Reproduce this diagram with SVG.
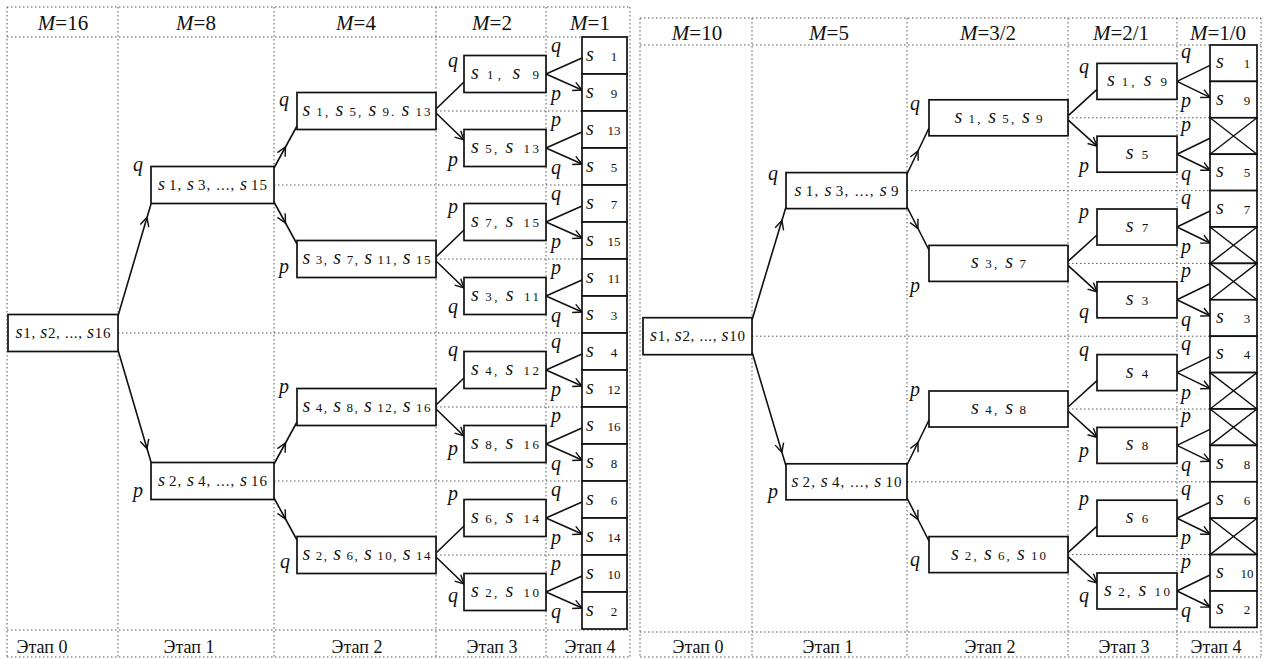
<svg xmlns="http://www.w3.org/2000/svg" width="1265" height="659" viewBox="0 0 1265 659">
<defs>
<style>
text{font-family:"Liberation Serif","Times New Roman",serif;fill:#111}
.bx{fill:#fff;stroke:#111;stroke-width:1.7}
.x{fill:none;stroke:#111;stroke-width:1.4}
.t{font-size:13px}
.s{font-style:italic;font-size:20px}
.t0{font-size:15px}
.s0{font-style:italic;font-size:18px}
.lab{font-style:italic;font-size:20px}
.hdr{font-size:21px}
.ftr{font-size:18px}
.it{font-style:italic}
.g{fill:none;stroke:#555;stroke-width:1;stroke-dasharray:1.5 2.5}
.c{fill:none;stroke:#111;stroke-width:1.6}
.m{marker-mid:url(#ah)}
.e{marker-end:url(#ah)}
</style>
<marker id="ah" viewBox="0 0 10 10" refX="9" refY="5" markerWidth="11" markerHeight="11" markerUnits="userSpaceOnUse" orient="auto">
<path d="M1,1 L9,5 L1,9" fill="none" stroke="#111" stroke-width="1.3"/>
</marker>
</defs>
<rect width="1265" height="659" fill="#fff"/>

<g id="grid" class="g">
<path d="M7,7 H630 M7,37 H630 M7,630 H630 M7,657 H630 M7,7 V657 M118,7 V657 M274,7 V657 M436,7 V657 M546,7 V657 M630,7 V657"/>
<path d="M118,333 H582 M274,185 H582 M274,481 H582 M436,111 H582 M436,259 H582 M436,407 H582 M436,555 H582"/>
<path d="M640,18 H1261 M640,45 H1261 M640,632 H1261 M640,657 H1261 M640,18 V657 M752,18 V657 M907,18 V657 M1068,18 V657 M1177,18 V657 M1261,18 V657"/>
<path d="M752,336.2 H1210 M907,190.6 H1210 M907,481.8 H1210 M1068,117.8 H1210 M1068,263.4 H1210 M1068,409 H1210 M1068,554.6 H1210"/>
</g>

<g id="headers">
<text class="hdr" x="63" y="30" text-anchor="middle"><tspan class="it">M</tspan>=16</text>
<text class="hdr" x="196" y="30" text-anchor="middle"><tspan class="it">M</tspan>=8</text>
<text class="hdr" x="356" y="30" text-anchor="middle"><tspan class="it">M</tspan>=4</text>
<text class="hdr" x="492" y="30" text-anchor="middle"><tspan class="it">M</tspan>=2</text>
<text class="hdr" x="590" y="30" text-anchor="middle"><tspan class="it">M</tspan>=1</text>
<text class="hdr" x="697" y="40" text-anchor="middle"><tspan class="it">M</tspan>=10</text>
<text class="hdr" x="829" y="40" text-anchor="middle"><tspan class="it">M</tspan>=5</text>
<text class="hdr" x="988" y="40" text-anchor="middle"><tspan class="it">M</tspan>=3/2</text>
<text class="hdr" x="1121" y="40" text-anchor="middle"><tspan class="it">M</tspan>=2/1</text>
<text class="hdr" x="1218" y="40" text-anchor="middle"><tspan class="it">M</tspan>=1/0</text>
<text class="ftr" x="42" y="653" text-anchor="middle">Этап 0</text>
<text class="ftr" x="189" y="653" text-anchor="middle">Этап 1</text>
<text class="ftr" x="357" y="653" text-anchor="middle">Этап 2</text>
<text class="ftr" x="492" y="653" text-anchor="middle">Этап 3</text>
<text class="ftr" x="590" y="653" text-anchor="middle">Этап 4</text>
<text class="ftr" x="698" y="653" text-anchor="middle">Этап 0</text>
<text class="ftr" x="828" y="653" text-anchor="middle">Этап 1</text>
<text class="ftr" x="990" y="653" text-anchor="middle">Этап 2</text>
<text class="ftr" x="1124" y="653" text-anchor="middle">Этап 3</text>
<text class="ftr" x="1216" y="653" text-anchor="middle">Этап 4</text>
</g>

<g id="connectors">
<path class="c m" d="M118,316 L147,217.4 L151,204"/>
<path class="c m" d="M118,350 L147,448.6 L151,462"/>
<path class="c m" d="M274,168 L285.5,147 L297,126"/>
<path class="c m" d="M274,202 L285.5,223 L297,244"/>
<path class="c m" d="M274,464 L285.5,443 L297,422"/>
<path class="c m" d="M274,498 L285.5,519 L297,540"/>
<path class="c e" d="M436,109 L464,82 M436,113 L464,140"/>
<path class="c e" d="M436,257 L464,230 M436,261 L464,288"/>
<path class="c e" d="M436,405 L464,378 M436,409 L464,436"/>
<path class="c e" d="M436,553 L464,526 M436,557 L464,584"/>
<path class="c e" d="M546,74 L582,58 M546,74 L582,90"/>
<path class="c e" d="M546,148 L582,132 M546,148 L582,164"/>
<path class="c e" d="M546,222 L582,206 M546,222 L582,238"/>
<path class="c e" d="M546,296 L582,280 M546,296 L582,312"/>
<path class="c e" d="M546,370 L582,354 M546,370 L582,386"/>
<path class="c e" d="M546,444 L582,428 M546,444 L582,460"/>
<path class="c e" d="M546,518 L582,502 M546,518 L582,534"/>
<path class="c e" d="M546,592 L582,576 M546,592 L582,608"/>

<path class="c m" d="M752,320 L781.9,220.6 L786,207"/>
<path class="c m" d="M752,352 L781.9,452.3 L786,466"/>
<path class="c m" d="M907,174 L918,151 L929,128"/>
<path class="c m" d="M907,207 L918,228.5 L929,250"/>
<path class="c m" d="M907,465 L918,442.5 L929,420"/>
<path class="c m" d="M907,498 L918,519.5 L929,541"/>
<path class="c e" d="M1068,115.8 L1097,89.4 M1068,119.8 L1097,146.2"/>
<path class="c e" d="M1068,261.4 L1097,235 M1068,265.4 L1097,291.8"/>
<path class="c e" d="M1068,407 L1097,380.6 M1068,411 L1097,437.4"/>
<path class="c e" d="M1068,552.6 L1097,526.2 M1068,556.6 L1097,583"/>
<path class="c e" d="M1177,81.4 L1210,65.4 M1177,81.4 L1210,97.4"/>
<path class="c e" d="M1177,154.2 L1210,138.2 M1177,154.2 L1210,170.2"/>
<path class="c e" d="M1177,227 L1210,211 M1177,227 L1210,243"/>
<path class="c e" d="M1177,299.8 L1210,283.8 M1177,299.8 L1210,315.8"/>
<path class="c e" d="M1177,372.6 L1210,356.6 M1177,372.6 L1210,388.6"/>
<path class="c e" d="M1177,445.4 L1210,429.4 M1177,445.4 L1210,461.4"/>
<path class="c e" d="M1177,518.2 L1210,502.2 M1177,518.2 L1210,534.2"/>
<path class="c e" d="M1177,591 L1210,575 M1177,591 L1210,607"/>
</g>

<g id="edge-labels" class="lab">
<text x="133" y="171">q</text><text x="133" y="497">p</text>
<text x="279" y="106">q</text><text x="279" y="273">p</text><text x="279" y="393">p</text><text x="280" y="568">q</text>
<text x="448" y="67">q</text><text x="448" y="166">p</text><text x="448" y="213">p</text><text x="448" y="313">q</text>
<text x="448" y="356">q</text><text x="448" y="455">p</text><text x="448" y="500">p</text><text x="448" y="602">q</text>
<text x="551" y="52">q</text><text x="551" y="100">p</text><text x="551" y="126">p</text><text x="551" y="174">q</text>
<text x="551" y="200">q</text><text x="551" y="248">p</text><text x="551" y="274">p</text><text x="551" y="322">q</text>
<text x="551" y="348">q</text><text x="551" y="396">p</text><text x="551" y="422">p</text><text x="551" y="470">q</text>
<text x="551" y="496">q</text><text x="551" y="544">p</text><text x="551" y="570">p</text><text x="551" y="618">q</text>

<text x="768" y="180">q</text><text x="768" y="498">p</text>
<text x="910" y="110">q</text><text x="910" y="292">p</text><text x="910" y="396">p</text><text x="910" y="566">q</text>
<text x="1079" y="73">q</text><text x="1079" y="172">p</text><text x="1079" y="218">p</text><text x="1079" y="318">q</text>
<text x="1079" y="356">q</text><text x="1079" y="457">p</text><text x="1079" y="505">p</text><text x="1079" y="602">q</text>
<text x="1181" y="58.4">q</text><text x="1181" y="107.4">p</text><text x="1181" y="131.2">p</text><text x="1181" y="180.2">q</text>
<text x="1181" y="204">q</text><text x="1181" y="253">p</text><text x="1181" y="276.8">p</text><text x="1181" y="325.8">q</text>
<text x="1181" y="349.6">q</text><text x="1181" y="398.6">p</text><text x="1181" y="422.4">p</text><text x="1181" y="471.4">q</text>
<text x="1181" y="495.2">q</text><text x="1181" y="544.2">p</text><text x="1181" y="568">p</text><text x="1181" y="617">q</text>
</g>

<!-- LEFT TREE -->
<g id="L0"><rect class="bx" x="8" y="314.5" width="110" height="37"/>
<text class="t0" x="63" y="338" text-anchor="middle" textLength="95" lengthAdjust="spacing"><tspan class="s0">s</tspan>1, <tspan class="s0">s</tspan>2, ..., <tspan class="s0">s</tspan>16</text></g>

<g id="L1a"><rect class="bx" x="151" y="166.5" width="123" height="37"/>
<text class="t0" x="212.5" y="190" text-anchor="middle" textLength="109" lengthAdjust="spacing"><tspan class="s0">s</tspan><tspan dx="3">1, </tspan><tspan class="s0">s</tspan><tspan dx="3">3, ..., </tspan><tspan class="s0">s</tspan><tspan dx="3">15</tspan></text></g>
<g id="L1b"><rect class="bx" x="151" y="462.5" width="123" height="37"/>
<text class="t0" x="212.5" y="486" text-anchor="middle" textLength="109" lengthAdjust="spacing"><tspan class="s0">s</tspan><tspan dx="3">2, </tspan><tspan class="s0">s</tspan><tspan dx="3">4, ..., </tspan><tspan class="s0">s</tspan><tspan dx="3">16</tspan></text></g>

<g id="L2a"><rect class="bx" x="297" y="92.5" width="139" height="37"/>
<text class="t" x="366.5" y="116" text-anchor="middle" textLength="128" lengthAdjust="spacing"><tspan class="s">s</tspan><tspan dx="4">1, </tspan><tspan class="s">s</tspan><tspan dx="4">5, </tspan><tspan class="s">s</tspan><tspan dx="4">9. </tspan><tspan class="s">s</tspan><tspan dx="4">13</tspan></text></g>
<g id="L2b"><rect class="bx" x="297" y="240.5" width="139" height="37"/>
<text class="t" x="366.5" y="264" text-anchor="middle" textLength="128" lengthAdjust="spacing"><tspan class="s">s</tspan><tspan dx="4">3, </tspan><tspan class="s">s</tspan><tspan dx="4">7, </tspan><tspan class="s">s</tspan><tspan dx="4">11, </tspan><tspan class="s">s</tspan><tspan dx="4">15</tspan></text></g>
<g id="L2c"><rect class="bx" x="297" y="388.5" width="139" height="37"/>
<text class="t" x="366.5" y="412" text-anchor="middle" textLength="128" lengthAdjust="spacing"><tspan class="s">s</tspan><tspan dx="4">4, </tspan><tspan class="s">s</tspan><tspan dx="4">8, </tspan><tspan class="s">s</tspan><tspan dx="4">12, </tspan><tspan class="s">s</tspan><tspan dx="4">16</tspan></text></g>
<g id="L2d"><rect class="bx" x="297" y="536.5" width="139" height="37"/>
<text class="t" x="366.5" y="560" text-anchor="middle" textLength="128" lengthAdjust="spacing"><tspan class="s">s</tspan><tspan dx="4">2, </tspan><tspan class="s">s</tspan><tspan dx="4">6, </tspan><tspan class="s">s</tspan><tspan dx="4">10, </tspan><tspan class="s">s</tspan><tspan dx="4">14</tspan></text></g>

<g id="L3a"><rect class="bx" x="464" y="55.5" width="82" height="37"/><text class="t" x="505" y="79" text-anchor="middle" textLength="68" lengthAdjust="spacing"><tspan class="s">s</tspan><tspan dx="4">1, </tspan><tspan class="s">s</tspan><tspan dx="8">9</tspan></text></g>
<g id="L3b"><rect class="bx" x="464" y="129.5" width="82" height="37"/><text class="t" x="505" y="153" text-anchor="middle" textLength="68" lengthAdjust="spacing"><tspan class="s">s</tspan><tspan dx="4">5, </tspan><tspan class="s">s</tspan><tspan dx="8">13</tspan></text></g>
<g id="L3c"><rect class="bx" x="464" y="203.5" width="82" height="37"/><text class="t" x="505" y="227" text-anchor="middle" textLength="68" lengthAdjust="spacing"><tspan class="s">s</tspan><tspan dx="4">7, </tspan><tspan class="s">s</tspan><tspan dx="8">15</tspan></text></g>
<g id="L3d"><rect class="bx" x="464" y="277.5" width="82" height="37"/><text class="t" x="505" y="301" text-anchor="middle" textLength="68" lengthAdjust="spacing"><tspan class="s">s</tspan><tspan dx="4">3, </tspan><tspan class="s">s</tspan><tspan dx="8">11</tspan></text></g>
<g id="L3e"><rect class="bx" x="464" y="351.5" width="82" height="37"/><text class="t" x="505" y="375" text-anchor="middle" textLength="68" lengthAdjust="spacing"><tspan class="s">s</tspan><tspan dx="4">4, </tspan><tspan class="s">s</tspan><tspan dx="8">12</tspan></text></g>
<g id="L3f"><rect class="bx" x="464" y="425.5" width="82" height="37"/><text class="t" x="505" y="449" text-anchor="middle" textLength="68" lengthAdjust="spacing"><tspan class="s">s</tspan><tspan dx="4">8, </tspan><tspan class="s">s</tspan><tspan dx="8">16</tspan></text></g>
<g id="L3g"><rect class="bx" x="464" y="499.5" width="82" height="37"/><text class="t" x="505" y="523" text-anchor="middle" textLength="68" lengthAdjust="spacing"><tspan class="s">s</tspan><tspan dx="4">6, </tspan><tspan class="s">s</tspan><tspan dx="8">14</tspan></text></g>
<g id="L3h"><rect class="bx" x="464" y="573.5" width="82" height="37"/><text class="t" x="505" y="597" text-anchor="middle" textLength="68" lengthAdjust="spacing"><tspan class="s">s</tspan><tspan dx="4">2, </tspan><tspan class="s">s</tspan><tspan dx="8">10</tspan></text></g>

<g id="L4-1"><rect class="bx" x="582" y="37" width="45" height="37"/><text class="s" x="586" y="60.5">s</text><text class="t" x="614" y="60.5" text-anchor="middle">1</text></g>
<g id="L4-9"><rect class="bx" x="582" y="74" width="45" height="37"/><text class="s" x="586" y="97.5">s</text><text class="t" x="614" y="97.5" text-anchor="middle">9</text></g>
<g id="L4-13"><rect class="bx" x="582" y="111" width="45" height="37"/><text class="s" x="586" y="134.5">s</text><text class="t" x="614" y="134.5" text-anchor="middle">13</text></g>
<g id="L4-5"><rect class="bx" x="582" y="148" width="45" height="37"/><text class="s" x="586" y="171.5">s</text><text class="t" x="614" y="171.5" text-anchor="middle">5</text></g>
<g id="L4-7"><rect class="bx" x="582" y="185" width="45" height="37"/><text class="s" x="586" y="208.5">s</text><text class="t" x="614" y="208.5" text-anchor="middle">7</text></g>
<g id="L4-15"><rect class="bx" x="582" y="222" width="45" height="37"/><text class="s" x="586" y="245.5">s</text><text class="t" x="614" y="245.5" text-anchor="middle">15</text></g>
<g id="L4-11"><rect class="bx" x="582" y="259" width="45" height="37"/><text class="s" x="586" y="282.5">s</text><text class="t" x="614" y="282.5" text-anchor="middle">11</text></g>
<g id="L4-3"><rect class="bx" x="582" y="296" width="45" height="37"/><text class="s" x="586" y="319.5">s</text><text class="t" x="614" y="319.5" text-anchor="middle">3</text></g>
<g id="L4-4"><rect class="bx" x="582" y="333" width="45" height="37"/><text class="s" x="586" y="356.5">s</text><text class="t" x="614" y="356.5" text-anchor="middle">4</text></g>
<g id="L4-12"><rect class="bx" x="582" y="370" width="45" height="37"/><text class="s" x="586" y="393.5">s</text><text class="t" x="614" y="393.5" text-anchor="middle">12</text></g>
<g id="L4-16"><rect class="bx" x="582" y="407" width="45" height="37"/><text class="s" x="586" y="430.5">s</text><text class="t" x="614" y="430.5" text-anchor="middle">16</text></g>
<g id="L4-8"><rect class="bx" x="582" y="444" width="45" height="37"/><text class="s" x="586" y="467.5">s</text><text class="t" x="614" y="467.5" text-anchor="middle">8</text></g>
<g id="L4-6"><rect class="bx" x="582" y="481" width="45" height="37"/><text class="s" x="586" y="504.5">s</text><text class="t" x="614" y="504.5" text-anchor="middle">6</text></g>
<g id="L4-14"><rect class="bx" x="582" y="518" width="45" height="37"/><text class="s" x="586" y="541.5">s</text><text class="t" x="614" y="541.5" text-anchor="middle">14</text></g>
<g id="L4-10"><rect class="bx" x="582" y="555" width="45" height="37"/><text class="s" x="586" y="578.5">s</text><text class="t" x="614" y="578.5" text-anchor="middle">10</text></g>
<g id="L4-2"><rect class="bx" x="582" y="592" width="45" height="37"/><text class="s" x="586" y="615.5">s</text><text class="t" x="614" y="615.5" text-anchor="middle">2</text></g>

<!-- RIGHT TREE -->
<g id="R0"><rect class="bx" x="643" y="317.7" width="109" height="37"/>
<text class="t0" x="697.5" y="341" text-anchor="middle" textLength="95" lengthAdjust="spacing"><tspan class="s0">s</tspan>1, <tspan class="s0">s</tspan>2, ..., <tspan class="s0">s</tspan>10</text></g>

<g id="R1a"><rect class="bx" x="786" y="172.6" width="121" height="36"/>
<text class="t0" x="846.5" y="195.6" text-anchor="middle" textLength="104" lengthAdjust="spacing"><tspan class="s0">s</tspan><tspan dx="3">1, </tspan><tspan class="s0">s</tspan><tspan dx="3">3, ..., </tspan><tspan class="s0">s</tspan><tspan dx="3">9</tspan></text></g>
<g id="R1b"><rect class="bx" x="786" y="463.8" width="121" height="36"/>
<text class="t0" x="846.5" y="486.8" text-anchor="middle" textLength="110" lengthAdjust="spacing"><tspan class="s0">s</tspan><tspan dx="3">2, </tspan><tspan class="s0">s</tspan><tspan dx="3">4, ..., </tspan><tspan class="s0">s</tspan><tspan dx="3">10</tspan></text></g>

<g id="R2a"><rect class="bx" x="929" y="99.8" width="139" height="36"/>
<text class="t" x="998.5" y="122.8" text-anchor="middle" textLength="88" lengthAdjust="spacing"><tspan class="s">s</tspan><tspan dx="4">1, </tspan><tspan class="s">s</tspan><tspan dx="4">5, </tspan><tspan class="s">s</tspan><tspan dx="4">9</tspan></text></g>
<g id="R2b"><rect class="bx" x="929" y="245.4" width="139" height="36"/>
<text class="t" x="998.5" y="268.4" text-anchor="middle" textLength="55" lengthAdjust="spacing"><tspan class="s">s</tspan><tspan dx="4">3, </tspan><tspan class="s">s</tspan><tspan dx="4">7</tspan></text></g>
<g id="R2c"><rect class="bx" x="929" y="391" width="139" height="36"/>
<text class="t" x="998.5" y="414" text-anchor="middle" textLength="55" lengthAdjust="spacing"><tspan class="s">s</tspan><tspan dx="4">4, </tspan><tspan class="s">s</tspan><tspan dx="4">8</tspan></text></g>
<g id="R2d"><rect class="bx" x="929" y="536.6" width="139" height="36"/>
<text class="t" x="998.5" y="559.6" text-anchor="middle" textLength="95" lengthAdjust="spacing"><tspan class="s">s</tspan><tspan dx="4">2, </tspan><tspan class="s">s</tspan><tspan dx="4">6, </tspan><tspan class="s">s</tspan><tspan dx="4">10</tspan></text></g>

<g id="R3a"><rect class="bx" x="1097" y="63.4" width="80" height="36"/><text class="t" x="1137" y="86.4" text-anchor="middle" textLength="60" lengthAdjust="spacing"><tspan class="s">s</tspan><tspan dx="4">1, </tspan><tspan class="s">s</tspan><tspan dx="6">9</tspan></text></g>
<g id="R3b"><rect class="bx" x="1097" y="136.2" width="80" height="36"/><text class="t" x="1137" y="159.2" text-anchor="middle"><tspan class="s">s</tspan><tspan dx="8">5</tspan></text></g>
<g id="R3c"><rect class="bx" x="1097" y="209" width="80" height="36"/><text class="t" x="1137" y="232" text-anchor="middle"><tspan class="s">s</tspan><tspan dx="8">7</tspan></text></g>
<g id="R3d"><rect class="bx" x="1097" y="281.8" width="80" height="36"/><text class="t" x="1137" y="304.8" text-anchor="middle"><tspan class="s">s</tspan><tspan dx="8">3</tspan></text></g>
<g id="R3e"><rect class="bx" x="1097" y="354.6" width="80" height="36"/><text class="t" x="1137" y="377.6" text-anchor="middle"><tspan class="s">s</tspan><tspan dx="8">4</tspan></text></g>
<g id="R3f"><rect class="bx" x="1097" y="427.4" width="80" height="36"/><text class="t" x="1137" y="450.4" text-anchor="middle"><tspan class="s">s</tspan><tspan dx="8">8</tspan></text></g>
<g id="R3g"><rect class="bx" x="1097" y="500.2" width="80" height="36"/><text class="t" x="1137" y="523.2" text-anchor="middle"><tspan class="s">s</tspan><tspan dx="8">6</tspan></text></g>
<g id="R3h"><rect class="bx" x="1097" y="573" width="80" height="36"/><text class="t" x="1137" y="596" text-anchor="middle" textLength="66" lengthAdjust="spacing"><tspan class="s">s</tspan><tspan dx="4">2, </tspan><tspan class="s">s</tspan><tspan dx="6">10</tspan></text></g>

<g id="R4-1"><rect class="bx" x="1210" y="45" width="47" height="36.4"/><text class="s" x="1216" y="68.2">s</text><text class="t" x="1247" y="68.2" text-anchor="middle">1</text></g>
<g id="R4-9"><rect class="bx" x="1210" y="81.4" width="47" height="36.4"/><text class="s" x="1216" y="104.6">s</text><text class="t" x="1247" y="104.6" text-anchor="middle">9</text></g>
<g id="R4-x1"><rect class="bx" x="1210" y="117.8" width="47" height="36.4"/><path class="x" d="M1210,117.8 L1257,154.2 M1257,117.8 L1210,154.2"/></g>
<g id="R4-5"><rect class="bx" x="1210" y="154.2" width="47" height="36.4"/><text class="s" x="1216" y="177.4">s</text><text class="t" x="1247" y="177.4" text-anchor="middle">5</text></g>
<g id="R4-7"><rect class="bx" x="1210" y="190.6" width="47" height="36.4"/><text class="s" x="1216" y="213.8">s</text><text class="t" x="1247" y="213.8" text-anchor="middle">7</text></g>
<g id="R4-x2"><rect class="bx" x="1210" y="227" width="47" height="36.4"/><path class="x" d="M1210,227 L1257,263.4 M1257,227 L1210,263.4"/></g>
<g id="R4-x3"><rect class="bx" x="1210" y="263.4" width="47" height="36.4"/><path class="x" d="M1210,263.4 L1257,299.8 M1257,263.4 L1210,299.8"/></g>
<g id="R4-3"><rect class="bx" x="1210" y="299.8" width="47" height="36.4"/><text class="s" x="1216" y="323">s</text><text class="t" x="1247" y="323" text-anchor="middle">3</text></g>
<g id="R4-4"><rect class="bx" x="1210" y="336.2" width="47" height="36.4"/><text class="s" x="1216" y="359.4">s</text><text class="t" x="1247" y="359.4" text-anchor="middle">4</text></g>
<g id="R4-x4"><rect class="bx" x="1210" y="372.6" width="47" height="36.4"/><path class="x" d="M1210,372.6 L1257,409 M1257,372.6 L1210,409"/></g>
<g id="R4-x5"><rect class="bx" x="1210" y="409" width="47" height="36.4"/><path class="x" d="M1210,409 L1257,445.4 M1257,409 L1210,445.4"/></g>
<g id="R4-8"><rect class="bx" x="1210" y="445.4" width="47" height="36.4"/><text class="s" x="1216" y="468.6">s</text><text class="t" x="1247" y="468.6" text-anchor="middle">8</text></g>
<g id="R4-6"><rect class="bx" x="1210" y="481.8" width="47" height="36.4"/><text class="s" x="1216" y="505">s</text><text class="t" x="1247" y="505" text-anchor="middle">6</text></g>
<g id="R4-x6"><rect class="bx" x="1210" y="518.2" width="47" height="36.4"/><path class="x" d="M1210,518.2 L1257,554.6 M1257,518.2 L1210,554.6"/></g>
<g id="R4-10"><rect class="bx" x="1210" y="554.6" width="47" height="36.4"/><text class="s" x="1216" y="577.8">s</text><text class="t" x="1247" y="577.8" text-anchor="middle">10</text></g>
<g id="R4-2"><rect class="bx" x="1210" y="591" width="47" height="36.4"/><text class="s" x="1216" y="614.2">s</text><text class="t" x="1247" y="614.2" text-anchor="middle">2</text></g>
</svg>
